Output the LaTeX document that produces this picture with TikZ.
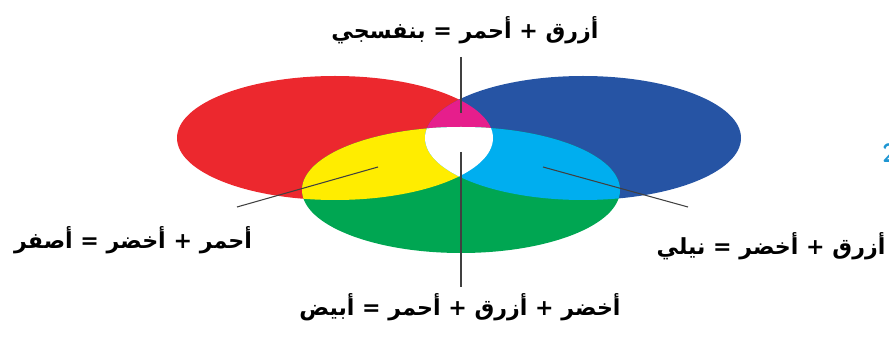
\documentclass[tikz,border=0pt]{standalone}
\usepackage{fontspec}
\usepackage{tikz}
\usetikzlibrary{positioning}
\TeXXeTstate=1
\newfontfamily\arabicfont[Script=Arabic]{DejaVu Sans}
\definecolor{mixred}{RGB}{236,40,46}
\definecolor{mixblue}{RGB}{38,84,164}
\definecolor{mixgreen}{RGB}{0,166,82}
\definecolor{mixyellow}{RGB}{255,237,0}
\definecolor{mixcyan}{RGB}{0,174,239}
\definecolor{mixmagenta}{RGB}{230,30,140}
\definecolor{pagenum}{RGB}{30,150,210}

\begin{document}
\begin{tikzpicture}[x=0.02cm,y=0.02cm,
  mixlabel/.style={font=\arabicfont\bfseries\fontsize{12.6}{15}\selectfont,inner sep=0pt},
  leader/.style={line width=0.6pt,black!75}]

  \useasboundingbox (0,0) rectangle (889,338);

  % Centres of the three colour discs
  \coordinate (redc) at (335,200);
  \coordinate (bluec) at (583,200);
  \coordinate (greenc) at (461,148);

  % Full discs
  \fill[mixred] (redc) ellipse [x radius=158,y radius=62];
  \fill[mixblue] (bluec) ellipse [x radius=158,y radius=62];
  \fill[mixgreen] (greenc) ellipse [x radius=159,y radius=63];

  % Overlaps with red
  \begin{scope}
    \clip (redc) ellipse [x radius=158,y radius=62];
    \fill[mixmagenta] (bluec) ellipse [x radius=158,y radius=62];
    \fill[mixyellow] (greenc) ellipse [x radius=159,y radius=63];
  \end{scope}

  % Overlaps with blue, and the white centre
  \begin{scope}
    \clip (bluec) ellipse [x radius=158,y radius=62];
    \fill[mixcyan] (greenc) ellipse [x radius=159,y radius=63];
    \begin{scope}
      \clip (redc) ellipse [x radius=158,y radius=62];
      \fill[white] (greenc) ellipse [x radius=159,y radius=63];
    \end{scope}
  \end{scope}

  % Labels
  \node[mixlabel] (violet) at (465,308)
    {\beginR أزرق + أحمر = بنفسجي\endR};
  \node[mixlabel] (yellow) at (133,98)
    {\beginR أحمر + أخضر = أصفر\endR};
  \node[mixlabel] (cyan) at (771,92)
    {\beginR أزرق + أخضر = نيلي\endR};
  \node[mixlabel] (white) at (460,31)
    {\beginR أخضر + أزرق + أحمر = أبيض\endR};
  \node[anchor=west,inner sep=0pt,text=pagenum,font=\sffamily\bfseries\fontsize{15}{18}\selectfont]
    (pnum) at (882,185) {2};

  % Leader lines
  \coordinate (vtop) at (461,281);
  \coordinate (vmid) at (461,225);
  \coordinate (vlow) at (461,186);
  \coordinate (vbot) at (461,51);
  \coordinate (ypt) at (378,171);
  \coordinate (yend) at (237,131);
  \coordinate (cpt) at (543,171);
  \coordinate (cend) at (688,131);
  \draw[leader] (vtop) -- (vmid);
  \draw[leader] (vlow) -- (vbot);
  \draw[leader] (ypt) -- (yend);
  \draw[leader] (cpt) -- (cend);

\end{tikzpicture}
\end{document}
